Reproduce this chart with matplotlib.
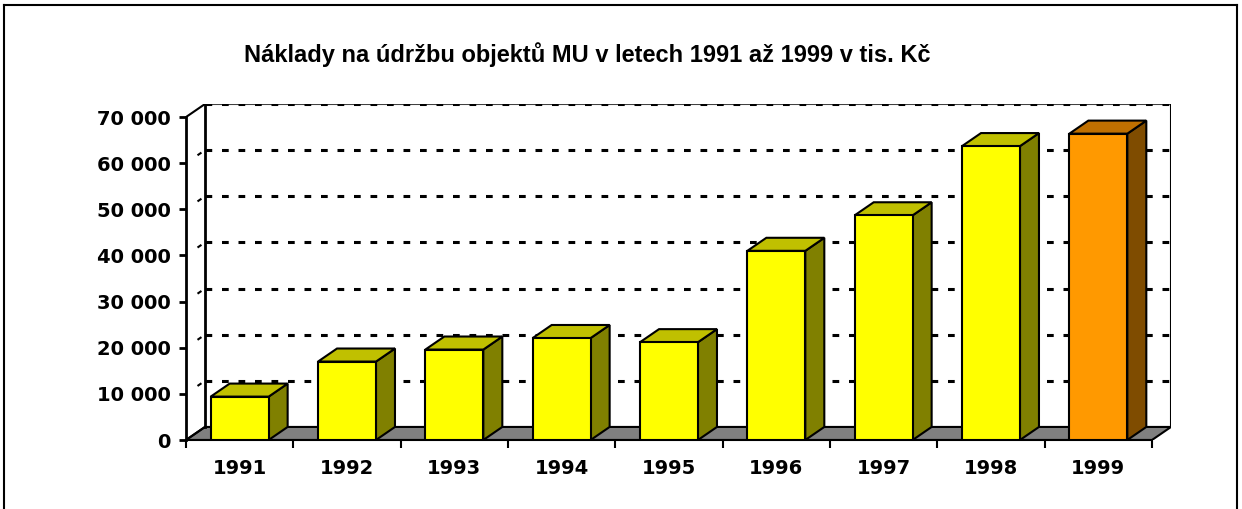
import matplotlib
matplotlib.use('Agg')
import matplotlib.pyplot as plt
from matplotlib.patches import Polygon
from matplotlib.lines import Line2D

# data (tis. Kc)
years = ['1991', '1992', '1993', '1994', '1995', '1996', '1997', '1998', '1999']
costs = [9400, 17000, 19600, 22100, 21200, 41000, 48700, 63700, 66400]
yticks = [0, 10000, 20000, 30000, 40000, 50000, 60000, 70000]
ytick_labels = ['0', '10 000', '20 000', '30 000', '40 000', '50 000', '60 000', '70 000']
title = 'Náklady na údržbu objektů MU v letech 1991 až 1999 v tis. Kč'

front_cols = ['#FFFF00'] * 8 + ['#FF9900']
top_cols = ['#C0C000'] * 8 + ['#C07000']
side_cols = ['#808000'] * 8 + ['#7F4C00']

ymax = 70000
dx = 0.177       # depth offset in category units
dy = 2830        # depth offset in value units
bw = 0.27        # half bar width

fig = plt.figure(figsize=(12.42, 5.09), dpi=100)
ax = fig.add_axes([186 / 1242, 1 - 440 / 509, (1171 - 186) / 1242, (440 - 104) / 509])
ax.set_xlim(-0.5, len(years) - 0.5 + dx)
ax.set_ylim(0, ymax + dy)

x0, x1 = -0.5, len(years) - 0.5

# floor
ax.add_patch(Polygon([(x0, 0), (x1, 0), (x1 + dx, dy), (x0 + dx, dy)],
                     closed=True, facecolor='#808080', edgecolor='black', lw=1.5, zorder=1))

# back wall gridlines and side wall gridlines
for v in yticks[1:-1]:
    ax.plot([x0 + dx, x1 + dx], [v + dy, v + dy], color='black', lw=2.2,
            dashes=(2.2, 3.2), zorder=1)
    ax.plot([x0, x0 + dx], [v, v + dy], color='black', lw=1.5,
            linestyle=(15.6, (2.3, 20)), zorder=1)
ax.plot([x0 + dx, x1 + dx], [ymax + dy, ymax + dy], color='#404040', lw=1.5, zorder=1)
ax.plot([x0 + dx, x1 + dx], [ymax + dy, ymax + dy], color='black', lw=2.2,
        dashes=(2.2, 3.2), zorder=1)

# wall edges
ax.plot([x0 + dx, x0 + dx], [dy, ymax + dy], color='black', lw=2, zorder=2)
ax.plot([x1 + dx, x1 + dx], [dy, ymax + dy], color='black', lw=1.5, zorder=2)
ax.plot([x0, x0 + dx], [ymax, ymax + dy], color='black', lw=1.5, zorder=2)
ax.plot([x0, x0 + dx], [0, dy], color='black', lw=1.5, zorder=2)

# bars
for i, v in enumerate(costs):
    l, r = i - bw, i + bw
    ax.add_patch(Polygon([(r, 0), (r + dx, dy), (r + dx, v + dy), (r, v)], closed=True,
                         facecolor=side_cols[i], edgecolor='black', lw=1.5, zorder=3))
    ax.add_patch(Polygon([(l, v), (r, v), (r + dx, v + dy), (l + dx, v + dy)], closed=True,
                         facecolor=top_cols[i], edgecolor='black', lw=1.5, zorder=3))
    ax.add_patch(Polygon([(l, 0), (r, 0), (r, v), (l, v)], closed=True,
                         facecolor=front_cols[i], edgecolor='black', lw=1.5, zorder=4))

for s in ['top', 'right']:
    ax.spines[s].set_visible(False)
ax.spines['left'].set_bounds(0, ymax)
ax.spines['left'].set_linewidth(2)
ax.spines['bottom'].set_bounds(x0, x1)
ax.spines['bottom'].set_linewidth(1.5)
ax.spines['left'].set_zorder(5)

ax.set_yticks(yticks)
ax.set_yticklabels(ytick_labels)
ax.tick_params(axis='y', direction='out', length=5, width=2, pad=6)

ax.set_xticks(range(len(years)))
ax.set_xticklabels(years)
ax.set_xticks([x0 + k for k in range(len(years) + 1)], minor=True)
ax.tick_params(axis='x', which='major', length=0, pad=14)
ax.tick_params(axis='x', which='minor', direction='out', length=6, width=1.5)

for lab in ax.get_xticklabels() + ax.get_yticklabels():
    lab.set_fontfamily('DejaVu Sans')
    lab.set_fontweight('bold')
    lab.set_fontsize(14)

fig.text(587 / 1242, 1 - 55 / 509, title, ha='center', va='center',
         fontsize=17, fontweight='bold', family='Liberation Sans')

# outer frame (bottom edge is cut off in the reference)
fig.add_artist(Line2D([4 / 1242, 4 / 1242], [0, 1 - 5 / 509], color='black', lw=1.5))
fig.add_artist(Line2D([4 / 1242, 1237 / 1242], [1 - 5 / 509, 1 - 5 / 509], color='black', lw=1.5))
fig.add_artist(Line2D([1237 / 1242, 1237 / 1242], [0, 1 - 5 / 509], color='black', lw=1.5))

fig.savefig('out.png', dpi=100, facecolor='white')
